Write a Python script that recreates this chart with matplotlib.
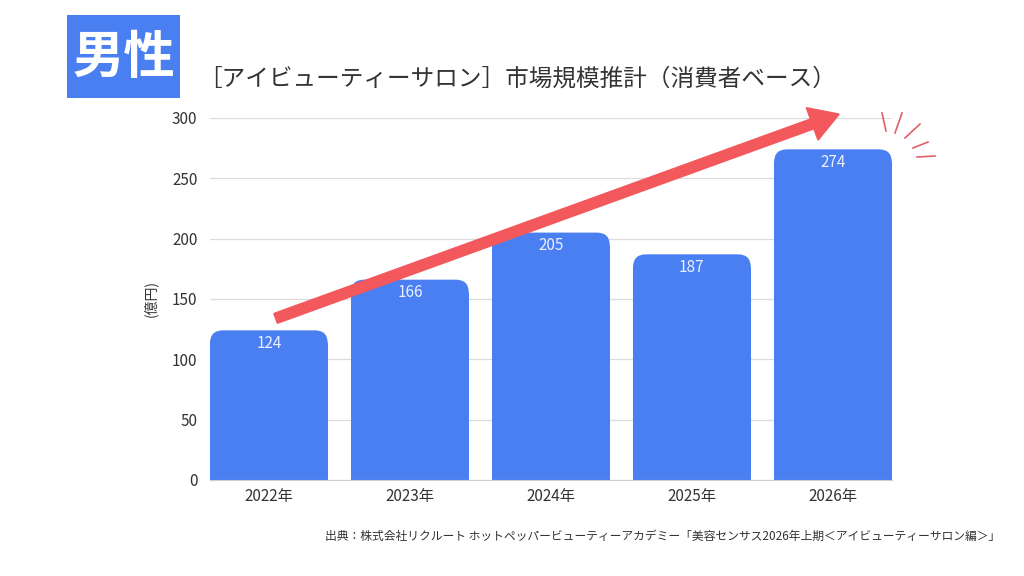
import matplotlib
matplotlib.use("Agg")
import matplotlib.pyplot as plt
from matplotlib.patches import FancyBboxPatch, Rectangle, FancyArrowPatch
from matplotlib.lines import Line2D

plt.rcParams['font.family'] = ['Noto Sans CJK JP', 'DejaVu Sans']

years = ["2022年", "2023年", "2024年", "2025年", "2026年"]
values = [124, 166, 205, 187, 274]
y_ticks = [0, 50, 100, 150, 200, 250, 300]

title = "［アイビューティーサロン］市場規模推計（消費者ベース）"
badge = "男性"
y_label = "(億円)"
source = "出典：株式会社リクルート ホットペッパービューティーアカデミー「美容センサス2026年上期＜アイビューティーサロン編＞」"

# trend arrow start/end (x in category units, y in 億円)
arrow_from = (0.05, 134)
arrow_to = (4.04, 303)

bar_color = "#4A7FF1"
arrow_color = "#F2585C"
text_color = "#333333"

fig = plt.figure(figsize=(10.24, 5.76), dpi=100)
ax = fig.add_axes([0.205, 0.1667, 0.666, 0.6285])

bar_w = 0.835
xlim = (-0.418, 4.418)
ylim = (0, 300)
ax.set_xlim(*xlim)
ax.set_ylim(*ylim)

# rounded top corners: radius in px converted to data units
ax_w_px = 0.666 * 1024
ax_h_px = 0.6285 * 576
px_x = (xlim[1] - xlim[0]) / ax_w_px
px_y = (ylim[1] - ylim[0]) / ax_h_px
r_px = 13
rx = r_px * px_x
ry = r_px * px_y

for i, v in enumerate(values):
    x0 = i - bar_w / 2
    ax.add_patch(FancyBboxPatch((x0, 0), bar_w, v,
                                boxstyle=f"round,pad=0,rounding_size={rx}",
                                mutation_aspect=ry / rx,
                                facecolor=bar_color, edgecolor="none", zorder=2))
    ax.add_patch(Rectangle((x0, 0), bar_w, v - ry, facecolor=bar_color,
                           edgecolor="none", zorder=2))
    ax.text(i, v - 4, str(v), ha="center", va="top", color="#EAF0FF",
            fontsize=11, zorder=3)

ax.set_yticks(y_ticks)
ax.set_xticks(range(len(years)))
ax.set_xticklabels(years)
ax.tick_params(axis="both", length=0, labelsize=11, labelcolor=text_color)
ax.tick_params(axis="y", pad=9)
ax.tick_params(axis="x", pad=6)
ax.grid(axis="y", color="#DCDCDC", linewidth=0.9, zorder=0)
ax.set_axisbelow(True)
for s in ["top", "right", "left"]:
    ax.spines[s].set_visible(False)
ax.spines["bottom"].set_color("#CCCCCC")
ax.set_ylabel(y_label, fontsize=10, color=text_color, labelpad=10)

arrow = FancyArrowPatch(arrow_from, arrow_to,
                        arrowstyle="simple,head_width=2.4,head_length=2.0,tail_width=0.7",
                        mutation_scale=10, color=arrow_color, clip_on=False,
                        zorder=4, shrinkA=0, shrinkB=0, joinstyle="round",
                        linewidth=1.5)
ax.add_patch(arrow)

# sparkle strokes near the arrow head (figure px)
sparks = [((882, 113), (886, 131)), ((902, 113), (895, 133)),
          ((920, 124), (905, 138)), ((928, 142), (913, 148)),
          ((935, 156), (917, 157))]
for (xa, ya), (xb, yb) in sparks:
    fig.add_artist(Line2D([xa / 1024, xb / 1024], [1 - ya / 576, 1 - yb / 576],
                          color="#E0606A", linewidth=1.2))

# badge + title
fig.add_artist(Rectangle((67 / 1024, 1 - 98 / 576), 113 / 1024, 83 / 576,
                         facecolor="#4A7FF1", edgecolor="none"))
fig.text(123.5 / 1024, 1 - 57 / 576, badge, ha="center", va="center",
         color="white", fontsize=37, fontweight="bold")
fig.text(198 / 1024, 1 - 79 / 576, title, ha="left", va="center",
         color=text_color, fontsize=17)

fig.text(1000 / 1024, 1 - 536 / 576, source, ha="right", va="center",
         color=text_color, fontsize=8.5)

fig.savefig("out.png", dpi=100, facecolor="white")
